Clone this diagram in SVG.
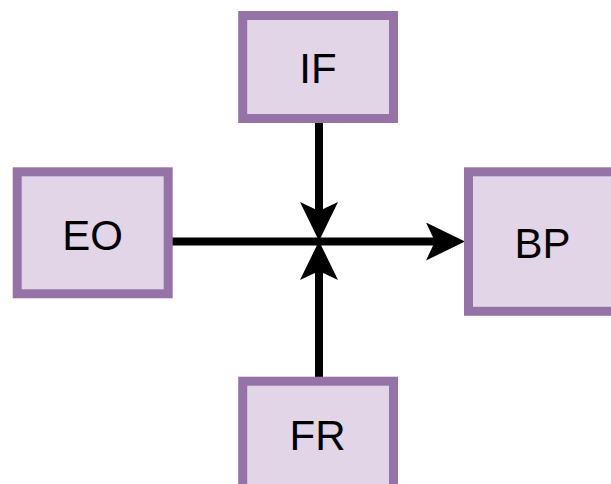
<svg xmlns="http://www.w3.org/2000/svg" width="611" height="484" viewBox="0 0 611 484">
  <style>
    .box { fill: #e1d5e7; stroke: #9673a6; stroke-width: 9; }
    .label { font-family: "Liberation Sans", Arial, sans-serif; font-size: 42px; fill: #000000; text-anchor: middle; }
    .edge { stroke: #000000; stroke-width: 8; fill: none; marker-end: url(#arrow); }
  </style>
  <defs>
    <marker id="arrow" markerUnits="userSpaceOnUse" markerWidth="40" markerHeight="40" refX="9" refY="19" orient="auto">
      <path d="M0,0 L39,19 L0,38 L9,19 Z" fill="#000000"/>
    </marker>
  </defs>
  <rect width="611" height="484" fill="#ffffff"/>

  <g id="connectors">
    <line class="edge" x1="319" y1="120" x2="319" y2="211"/>
    <line class="edge" x1="319" y1="379" x2="319" y2="271"/>
    <line class="edge" x1="168" y1="241.5" x2="435" y2="241.5"/>
  </g>

  <g id="node-if">
    <rect class="box" x="242.7" y="15.5" width="150.8" height="103"/>
    <text class="label" x="318" y="82.5">IF</text>
  </g>
  <g id="node-eo">
    <rect class="box" x="17.2" y="171.8" width="151" height="122"/>
    <text class="label" x="92.5" y="250">EO</text>
  </g>
  <g id="node-bp">
    <rect class="box" x="468.5" y="171.8" width="151" height="139.5"/>
    <text class="label" x="542.5" y="258.3">BP</text>
  </g>
  <g id="node-fr">
    <rect class="box" x="242.7" y="381.2" width="150.8" height="120"/>
    <text class="label" x="317.5" y="450">FR</text>
  </g>
</svg>
